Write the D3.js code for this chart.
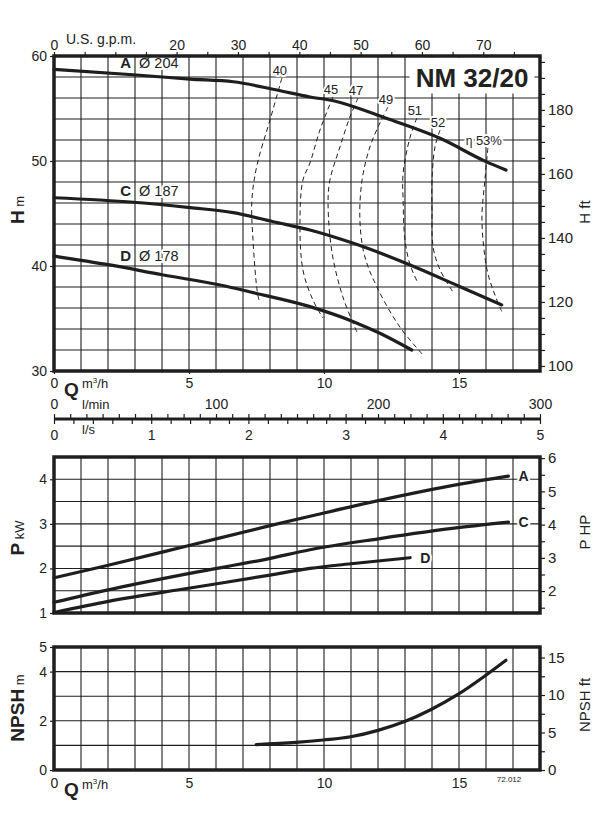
<!DOCTYPE html>
<html><head><meta charset="utf-8">
<script src="https://cdn.jsdelivr.net/npm/d3@7/dist/d3.min.js"></script>
<style>
body{margin:0;background:#fff}
text{font-family:"Liberation Sans",Arial,Helvetica,sans-serif;fill:#222}
</style>
</head><body>
<svg id="c" width="614" height="829"></svg>
<script>
// ---------- DATA ----------
const title = "NM 32/20";
const impellers = ["A","C","D"];
const diameters = ["Ø 204","Ø 187","Ø 178"];
// Head curves [Q m3/h, H m]
const headA = [[0,58.73],[3.06,58.19],[5.04,57.8],[6.64,57.55],[8.25,56.76],[9.48,56.1],[10.35,55.74],[12.2,54.16],[14.3,52.16],[16.0,49.94],[16.74,49.14]];
const headC = [[0,46.5],[2.95,46.07],[5.04,45.56],[6.64,45.08],[8.12,44.22],[9.48,43.43],[11.09,42.16],[13.19,40.1],[15.04,38.03],[16.58,36.29]];
const headD = [[0,40.95],[2.07,40.1],[4.05,39.14],[6.15,38.19],[7.38,37.46],[9.48,36.13],[11.09,34.7],[12.07,33.59],[13.25,32.0]];
// Iso-efficiency curves [Q, H]
const effLabels = ["40","45","47","49","51","52","53%"];
const eff40 = [[8.44,57.9],[8.0,53.9],[7.52,49.62],[7.33,46.29],[7.37,42.48],[7.52,37.71],[7.59,36.76]];
const eff45 = [[10.33,56.1],[9.85,52.95],[9.48,49.81],[9.22,48.19],[9.11,44.38],[9.22,39.62],[9.59,36.76],[9.96,35.05]];
const eff47 = [[11.26,56.0],[10.96,54.19],[10.59,51.33],[10.22,48.19],[10.15,46.0],[10.3,41.24],[10.7,37.05],[11.22,33.71]];
const eff49 = [[12.37,55.14],[12.07,53.62],[11.7,51.33],[11.41,48.19],[11.33,44.38],[11.5,41.0],[11.96,38.0],[12.81,34.19],[13.67,31.52]];
const eff51 = [[13.44,54.1],[13.19,52.29],[12.93,48.86],[12.93,46.29],[13.0,42.48],[13.19,40.1],[13.48,38.38]];
const eff52 = [[14.3,52.95],[14.11,51.33],[14.0,48.19],[14.0,45.33],[14.04,41.81],[14.3,39.62],[14.78,37.52]];
const eff53 = [[16.07,51.24],[15.96,48.19],[15.85,44.38],[16.04,39.62],[16.33,37.24],[16.59,35.62]];
// Power curves [Q, P kW]
const powerA = [[0,1.79],[2.01,2.07],[5.04,2.52],[8.0,2.96],[9.48,3.17],[12.01,3.52],[15.04,3.89],[16.83,4.07]];
const powerC = [[0,1.24],[2.01,1.52],[5.04,1.89],[7.88,2.21],[9.48,2.42],[12.07,2.67],[15.04,2.92],[16.83,3.04]];
const powerD = [[0,1.01],[2.01,1.26],[5.04,1.56],[8.0,1.85],[9.48,2.0],[11.09,2.11],[13.19,2.24]];
// NPSH required [Q, m]
const npsh = [[7.49,1.03],[8.96,1.12],[9.98,1.22],[10.99,1.35],[12.0,1.61],[13.01,1.98],[13.95,2.45],[14.96,3.07],[15.98,3.84],[16.74,4.46]];
// Tick labels
const qTicks = [0,5,10,15];
const gpmLabels = [0,20,30,40,50,60,70];
const lminLabels = [0,100,200,300];
const lsLabels = [0,1,2,3,4,5];
const hTicks = [30,40,50,60];
const hftLabels = [100,120,140,160,180];
const pTicks = [1,2,3,4];
const hpLabels = [2,3,4,5,6];
const npshTicks = [0,2,4,5];
const npshFtLabels = [0,5,10,15];
const drawingNo = "72.012";

// ---------- LAYOUT ----------
const svg = d3.select("#c");
const X0 = 54, X1 = 540;
const x = d3.scaleLinear().domain([0,18]).range([X0,X1]);
const yH = d3.scaleLinear().domain([30,60]).range([371,56]);
const yP = d3.scaleLinear().domain([1,4.5]).range([613,457]);
const yN = d3.scaleLinear().domain([0,5]).range([770,647]);
const M2FT = 3.28084, KW2HP = 1/0.7457, M3H2GPM = 4.40287;
const yHft = d3.scaleLinear().domain([30*M2FT,60*M2FT]).range(yH.range());
const yHP = d3.scaleLinear().domain([1*KW2HP,4.5*KW2HP]).range(yP.range());
const yNft = d3.scaleLinear().domain([0,5*M2FT]).range(yN.range());
const xg = d3.scaleLinear().domain([0,18*M3H2GPM]).range([X0,X1]);
const xlmin = d3.scaleLinear().domain([0,300]).range([X0,X1]);
const xls = d3.scaleLinear().domain([0,5]).range([X0,X1]);
const INK = "#1e1e1e";
const fmt = d => String(d);

function grid(ys, step){
  const g = svg.append("g").attr("stroke",INK).attr("stroke-width",1.1);
  const [lo,hi] = ys.domain();
  g.selectAll("line.v").data(d3.range(1,18)).join("line")
    .attr("x1",d=>x(d)).attr("x2",d=>x(d)).attr("y1",ys(lo)).attr("y2",ys(hi));
  g.selectAll("line.h").data(d3.range(lo+step,hi-1e-9,step)).join("line")
    .attr("x1",X0).attr("x2",X1).attr("y1",d=>ys(d)).attr("y2",d=>ys(d));
}
function frame(ys){
  const [lo,hi] = ys.domain();
  svg.append("rect").attr("x",X0).attr("y",ys(hi)).attr("width",X1-X0).attr("height",ys(lo)-ys(hi))
    .attr("fill","none").attr("stroke",INK).attr("stroke-width",3.5);
}
function styleAxis(g, size){
  g.attr("font-family",null).attr("font-size",size);
  g.select(".domain").remove();
  g.selectAll(".tick line").attr("stroke",INK).attr("stroke-width",1.2);
  g.selectAll(".tick text").attr("fill","#222");
}
function curve(data, ys, w, cf){
  return svg.append("path").datum(data)
    .attr("d", d3.line().x(d=>x(d[0])).y(d=>ys(d[1])).curve(cf||d3.curveMonotoneX))
    .attr("fill","none").attr("stroke",INK).attr("stroke-width",w).attr("stroke-linecap","round");
}
function halo(sel){ return sel.attr("stroke","#fff").attr("stroke-width",4).attr("paint-order","stroke").attr("stroke-linejoin","round"); }
function interp(data, q){
  for(let i=1;i<data.length;i++){ if(q<=data[i][0]){ const a=data[i-1],b=data[i]; return a[1]+(b[1]-a[1])*(q-a[0])/(b[0]-a[0]); } }
  return data[data.length-1][1];
}
function vlabel(xp, yc, parts, anchor){
  const t = svg.append("text").attr("transform",`translate(${xp},${yc}) rotate(-90)`).attr("text-anchor",anchor||"middle");
  parts.forEach(p=>t.append("tspan").text(p[0]).attr("font-size",p[1]).attr("font-weight",p[2]||"normal"));
  return t;
}

// ---------- TOP: HEAD ----------
grid(yH, 2);
const effSets = [eff40,eff45,eff47,eff49,eff51,eff52,eff53];
effSets.forEach(e=>{
  svg.append("path").datum(e)
    .attr("d", d3.line().x(d=>x(d[0])).y(d=>yH(d[1])).curve(d3.curveCatmullRom))
    .attr("fill","none").attr("stroke",INK).attr("stroke-width",1).attr("stroke-dasharray","5,3.5");
});
[headA,headC,headD].forEach(h=>curve(h,yH,3.2));
// efficiency labels
effSets.forEach((e,i)=>{
  const px = x(e[0][0]), py = yH(e[0][1]);
  const t = svg.append("text").attr("font-size",13).attr("text-anchor","middle")
    .attr("x", i===6 ? px-4 : px-2).attr("y", py-3);
  if(i===6){ t.append("tspan").text("η ").attr("font-size",12); }
  t.append("tspan").text(effLabels[i]);
  halo(t);
});
// impeller labels
[headA,headC,headD].forEach((h,i)=>{
  const t = svg.append("text").attr("x",x(2.45)).attr("y",yH(interp(h,2.5))-6).attr("font-size",15);
  t.append("tspan").text(impellers[i]).attr("font-weight","bold");
  t.append("tspan").text("  "+diameters[i]).attr("dx",4).attr("font-size",14.5);
  halo(t);
});
// title
const tt = svg.append("text").attr("x",472).attr("y",87).attr("text-anchor","middle")
  .attr("font-size",26).attr("font-weight","bold").text(title).attr("fill","#222");
const bb = tt.node().getBBox();
svg.insert("rect","text").attr("x",bb.x-6).attr("y",57.5).attr("width",bb.width+12).attr("height",36).attr("fill","#fff");
frame(yH);
// axes
styleAxis(svg.append("g").attr("transform",`translate(${X0},0)`)
  .call(d3.axisLeft(yH).tickValues(hTicks).tickSize(4).tickPadding(3).tickFormat(fmt)),14);
styleAxis(svg.append("g").attr("transform",`translate(${X1},0)`)
  .call(d3.axisRight(yHft).tickValues(d3.range(100,196,5)).tickSize(5).tickPadding(3)
  .tickFormat(d=>hftLabels.includes(d)?d:"")),15);
styleAxis(svg.append("g").attr("transform",`translate(0,${yH(60)})`)
  .call(d3.axisTop(xg).tickValues(d3.range(0,76,5)).tickSize(4).tickPadding(2)
  .tickFormat(d=>gpmLabels.includes(d)?d:"")),14);
svg.append("text").attr("x",66).attr("y",44).attr("font-size",14).text("U.S. g.p.m.");
styleAxis(svg.append("g").attr("transform",`translate(0,${yH(30)})`)
  .call(d3.axisBottom(x).tickValues(qTicks).tickSize(3).tickPadding(4).tickFormat(fmt)),14);
svg.append("text").attr("x",64).attr("y",396).attr("font-size",19).attr("font-weight","bold").text("Q");
const m3 = svg.append("text").attr("x",82).attr("y",388).attr("font-size",13);
m3.append("tspan").text("m"); m3.append("tspan").text("3").attr("font-size",8).attr("dy",-5);
m3.append("tspan").text("/h").attr("dy",5);
vlabel(24, 210, [["H",19,"bold"],[" m",13]]);
vlabel(590, 212, [["H ft",15]]);

// ---------- FLOW SCALES ----------
const ya = 419;
svg.append("line").attr("x1",X0).attr("x2",X1).attr("y1",ya).attr("y2",ya).attr("stroke",INK).attr("stroke-width",3);
styleAxis(svg.append("g").attr("transform",`translate(0,${ya})`)
  .call(d3.axisTop(xlmin).tickValues(d3.range(0,301,10)).tickSize(5).tickPadding(5)
  .tickFormat(d=>lminLabels.includes(d)?d:"")),14);
styleAxis(svg.append("g").attr("transform",`translate(0,${ya})`)
  .call(d3.axisBottom(xls).tickValues(d3.range(0,5.01,0.2).map(v=>+v.toFixed(1))).tickSize(5).tickPadding(6)
  .tickFormat(d=>lsLabels.includes(d)?d:"")),14);
svg.append("text").attr("x",82).attr("y",409).attr("font-size",13).text("l/min");
svg.append("text").attr("x",82).attr("y",434).attr("font-size",13).text("l/s");

// ---------- MIDDLE: POWER ----------
grid(yP, 0.5);
const powers = [powerA,powerC,powerD];
powers.forEach(p=>curve(p,yP,3.2));
powers.forEach((p,i)=>{
  const e = p[p.length-1];
  halo(svg.append("text").attr("x",x(e[0])+10).attr("y",yP(e[1])+5).attr("font-size",14).attr("font-weight","bold").text(impellers[i]));
});
frame(yP);
styleAxis(svg.append("g").attr("transform",`translate(${X0},0)`)
  .call(d3.axisLeft(yP).tickValues(pTicks).tickSize(4).tickPadding(3).tickFormat(fmt)),14);
styleAxis(svg.append("g").attr("transform",`translate(${X1},0)`)
  .call(d3.axisRight(yHP).tickValues(d3.range(1.5,6.01,0.5)).tickSize(5).tickPadding(3)
  .tickFormat(d=>hpLabels.includes(d)?d:"")),15);
vlabel(24, 538, [["P",19,"bold"],[" kW",13]]);
vlabel(590, 532, [["P HP",15]]);

// ---------- BOTTOM: NPSH ----------
grid(yN, 1);
curve(npsh, yN, 3.2);
frame(yN);
styleAxis(svg.append("g").attr("transform",`translate(${X0},0)`)
  .call(d3.axisLeft(yN).tickValues(npshTicks).tickSize(4).tickPadding(3).tickFormat(fmt)),14);
styleAxis(svg.append("g").attr("transform",`translate(${X1},0)`)
  .call(d3.axisRight(yNft).tickValues(d3.range(0,15.1,2.5)).tickSize(5).tickPadding(3)
  .tickFormat(d=>npshFtLabels.includes(d)?d:"")),15);
styleAxis(svg.append("g").attr("transform",`translate(0,${yN(0)})`)
  .call(d3.axisBottom(x).tickValues(qTicks).tickSize(0).tickPadding(8).tickFormat(fmt)),14);
svg.append("text").attr("x",64).attr("y",796).attr("font-size",19).attr("font-weight","bold").text("Q");
const m3b = svg.append("text").attr("x",82).attr("y",789).attr("font-size",13);
m3b.append("tspan").text("m"); m3b.append("tspan").text("3").attr("font-size",8).attr("dy",-5);
m3b.append("tspan").text("/h").attr("dy",5);
svg.append("text").attr("x",509).attr("y",782).attr("text-anchor","middle").attr("font-size",8).attr("fill","#444").text(drawingNo);
vlabel(24, 708, [["NPSH",19,"bold"],[" m",13]]);
vlabel(590, 705, [["NPSH ft",15]]);
</script>
</body></html>
